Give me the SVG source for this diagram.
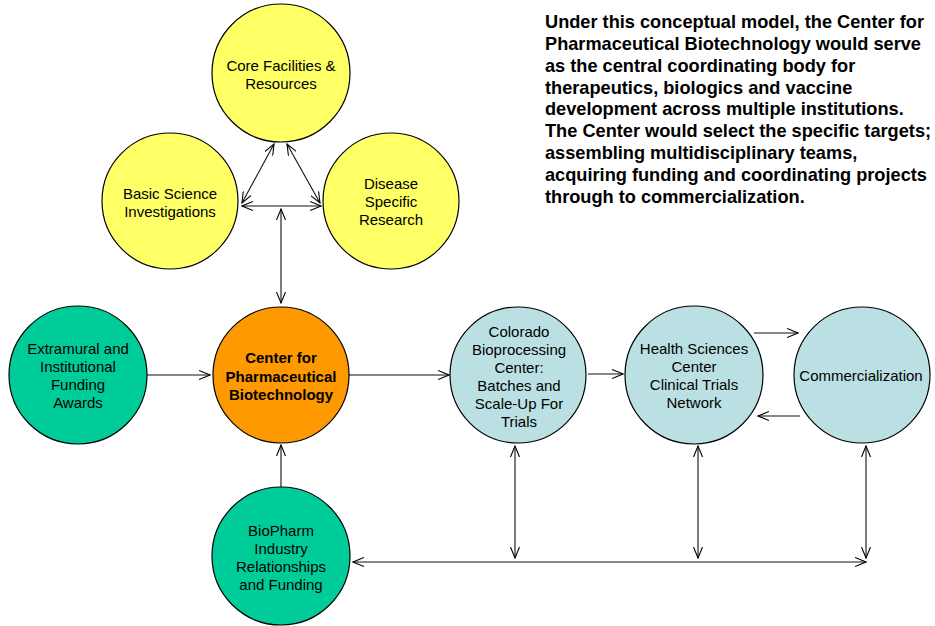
<svg xmlns="http://www.w3.org/2000/svg" width="935" height="626" viewBox="0 0 935 626">
<defs>
<marker id="ah" viewBox="0 0 12 10" refX="11" refY="5" markerWidth="12" markerHeight="10" markerUnits="userSpaceOnUse" orient="auto-start-reverse">
<path d="M0,0.5 L11,5 L0,9.5" fill="none" stroke="#000" stroke-width="1.1"/>
</marker>
<style>
.n{stroke:#000;stroke-width:1.2}
.y{fill:#FFFF66}
.o{fill:#FF9900}
.g{fill:#00CC99}
.b{fill:#BBE0E3}
.t{font-family:"Liberation Sans",Arial,sans-serif;font-size:15px;fill:#000;text-anchor:middle}
.bold{font-weight:bold}
.p{font-family:"Liberation Sans",Arial,sans-serif;font-size:18.2px;font-weight:bold;fill:#000}
.c{stroke:#111;stroke-width:1.1;fill:none}
.e{marker-end:url(#ah)}
.d{marker-start:url(#ah);marker-end:url(#ah)}
</style>
</defs>
<rect width="935" height="626" fill="#fff"/>
<g id="connectors">
<line class="c d" x1="274" y1="144" x2="242" y2="203"/>
<line class="c d" x1="287" y1="144" x2="320" y2="203"/>
<line class="c d" x1="242" y1="206" x2="321" y2="206"/>
<line class="c d" x1="281" y1="209" x2="281" y2="303"/>
<line class="c e" x1="147" y1="375" x2="210" y2="375"/>
<line class="c e" x1="349" y1="375" x2="449" y2="375"/>
<line class="c e" x1="588" y1="374" x2="623" y2="374"/>
<line class="c e" x1="754" y1="333" x2="798" y2="333"/>
<line class="c e" x1="800" y1="416" x2="758" y2="416"/>
<line class="c e" x1="281" y1="488" x2="281" y2="445"/>
<line class="c d" x1="353" y1="562" x2="866" y2="562"/>
<line class="c d" x1="515" y1="446" x2="515" y2="558"/>
<line class="c d" x1="698" y1="446" x2="698" y2="558"/>
<line class="c d" x1="866" y1="446" x2="866" y2="558"/>
</g>
<g id="core">
<circle class="n y" cx="281" cy="73" r="69"/>
<text class="t" x="281" y="71">Core Facilities &amp;</text>
<text class="t" x="281" y="89">Resources</text>
</g>
<g id="basic">
<circle class="n y" cx="170" cy="201" r="68"/>
<text class="t" x="170" y="199">Basic Science</text>
<text class="t" x="170" y="217">Investigations</text>
</g>
<g id="disease">
<circle class="n y" cx="391" cy="201" r="68"/>
<text class="t" x="391" y="189">Disease</text>
<text class="t" x="391" y="207">Specific</text>
<text class="t" x="391" y="225">Research</text>
</g>
<g id="center">
<circle class="n o" cx="281" cy="375" r="68"/>
<text class="t bold" x="281" y="363">Center for</text>
<text class="t bold" x="281" y="382">Pharmaceutical</text>
<text class="t bold" x="281" y="400">Biotechnology</text>
</g>
<g id="extramural">
<circle class="n g" cx="78" cy="375" r="69"/>
<text class="t" x="78" y="354">Extramural and</text>
<text class="t" x="78" y="372">Institutional</text>
<text class="t" x="78" y="390">Funding</text>
<text class="t" x="78" y="408">Awards</text>
</g>
<g id="colorado">
<circle class="n b" cx="518" cy="375" r="68"/>
<text class="t" x="519" y="337">Colorado</text>
<text class="t" x="519" y="355">Bioprocessing</text>
<text class="t" x="519" y="373">Center:</text>
<text class="t" x="519" y="391">Batches and</text>
<text class="t" x="519" y="409">Scale-Up For</text>
<text class="t" x="519" y="427">Trials</text>
</g>
<g id="health">
<circle class="n b" cx="694" cy="375" r="69"/>
<text class="t" x="694" y="354">Health Sciences</text>
<text class="t" x="694" y="372">Center</text>
<text class="t" x="694" y="390">Clinical Trials</text>
<text class="t" x="694" y="408">Network</text>
</g>
<g id="commercialization">
<circle class="n b" cx="862" cy="375" r="68"/>
<text class="t" x="861" y="381">Commercialization</text>
</g>
<g id="biopharm">
<circle class="n g" cx="281" cy="556" r="69"/>
<text class="t" x="281" y="536">BioPharm</text>
<text class="t" x="281" y="554">Industry</text>
<text class="t" x="281" y="572">Relationships</text>
<text class="t" x="281" y="590">and Funding</text>
</g>
<g id="description">
<text class="p" x="545" y="28">Under this conceptual model, the Center for</text>
<text class="p" x="545" y="50">Pharmaceutical Biotechnology would serve</text>
<text class="p" x="545" y="72">as the central coordinating body for</text>
<text class="p" x="545" y="94">therapeutics, biologics and vaccine</text>
<text class="p" x="545" y="115">development across multiple institutions.</text>
<text class="p" x="545" y="137">The Center would select the specific targets;</text>
<text class="p" x="545" y="159">assembling multidisciplinary teams,</text>
<text class="p" x="545" y="181">acquiring funding and coordinating projects</text>
<text class="p" x="545" y="203">through to commercialization.</text>
</g>
</svg>
